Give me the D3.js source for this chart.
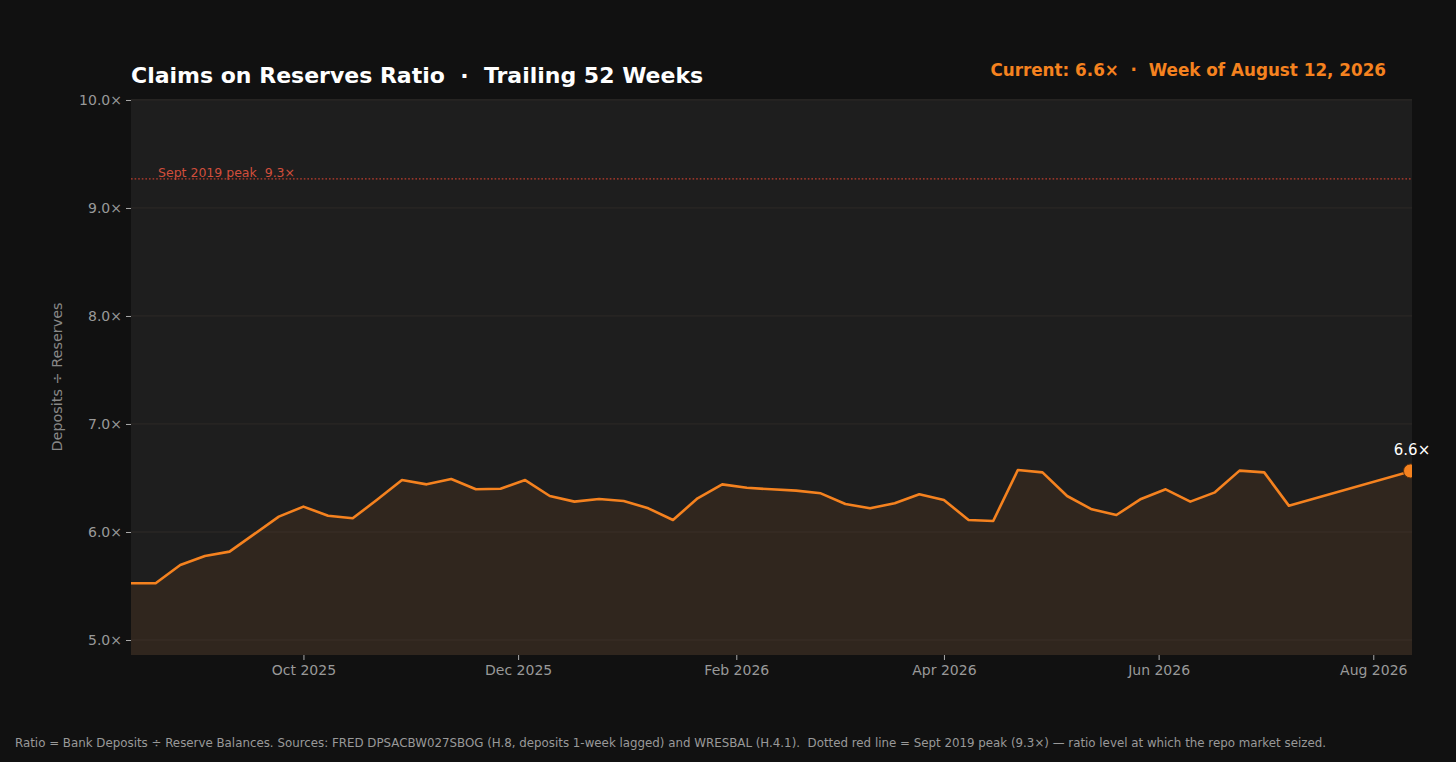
<!DOCTYPE html>
<html><head><meta charset="utf-8">
<script src="https://cdn.jsdelivr.net/npm/d3@7"></script>
<style>
html,body{margin:0;padding:0;background:#111111;}
svg{display:block;}
text{font-family:"DejaVu Sans",sans-serif;white-space:pre;}
</style></head>
<body>
<svg id="chart" width="1456" height="762"></svg>
<script>
// ---- data ----
const weekDates = [
"2025-08-13","2025-08-20","2025-08-27","2025-09-03","2025-09-10","2025-09-17","2025-09-24",
"2025-10-01","2025-10-08","2025-10-15","2025-10-22","2025-10-29","2025-11-05","2025-11-12",
"2025-11-19","2025-11-26","2025-12-03","2025-12-10","2025-12-17","2025-12-24","2025-12-31",
"2026-01-07","2026-01-14","2026-01-21","2026-01-28","2026-02-04","2026-02-11","2026-02-18",
"2026-02-25","2026-03-04","2026-03-11","2026-03-18","2026-03-25","2026-04-01","2026-04-08",
"2026-04-15","2026-04-22","2026-04-29","2026-05-06","2026-05-13","2026-05-20","2026-05-27",
"2026-06-03","2026-06-10","2026-06-17","2026-06-24","2026-07-01","2026-07-08","2026-08-12"
];
const ratioValues = [
5.525,5.525,5.694,5.778,5.818,5.98,6.142,
6.235,6.151,6.127,6.30,6.481,6.441,6.491,
6.395,6.401,6.481,6.333,6.281,6.306,6.287,
6.219,6.111,6.312,6.441,6.41,6.395,6.383,
6.358,6.259,6.219,6.266,6.349,6.296,6.111,
6.102,6.574,6.552,6.333,6.21,6.157,6.306,
6.395,6.281,6.367,6.568,6.552,6.244,6.565
];
const yTicks = [5,6,7,8,9,10];
const xTickDates = ["2025-10-01","2025-12-01","2026-02-01","2026-04-01","2026-06-01","2026-08-01"];
const peakValue = 9.27;
const peakLabel = "Sept 2019 peak  9.3\u00d7";
const titleText = "Claims on Reserves Ratio  \u00b7  Trailing 52 Weeks";
const currentText = "Current: 6.6\u00d7  \u00b7  Week of August 12, 2026";
const endLabel = "6.6\u00d7";
const yLabel = "Deposits \u00f7 Reserves";
const footText = "Ratio = Bank Deposits \u00f7 Reserve Balances. Sources: FRED DPSACBW027SBOG (H.8, deposits 1-week lagged) and WRESBAL (H.4.1).  Dotted red line = Sept 2019 peak (9.3\u00d7) \u2014 ratio level at which the repo market seized.";

// ---- layout ----
const L = 131, R = 1412, T = 99, B = 655;
const orange = "#f5821f";
const parse = d3.timeParse("%Y-%m-%d");
const data = weekDates.map((d,i)=>({date:parse(d), v:ratioValues[i]}));

const x = d3.scaleTime().domain(d3.extent(data,d=>d.date)).range([L,R]);
const y = d3.scaleLinear().domain([4.861,10.009]).range([B,T]);

const svg = d3.select("#chart");
svg.append("rect").attr("width",1456).attr("height",762).attr("fill","#111111");

svg.append("defs").append("clipPath").attr("id","clip")
  .append("rect").attr("x",L).attr("y",T).attr("width",R-L).attr("height",B-T);

svg.append("rect").attr("x",L).attr("y",T).attr("width",R-L).attr("height",B-T).attr("fill","#1e1e1e");

// grid
svg.append("g").selectAll("line").data(yTicks).join("line")
  .attr("x1",L).attr("x2",R).attr("y1",d=>y(d)).attr("y2",d=>y(d))
  .attr("stroke","#2a2a2a").attr("stroke-width",0.8);

const plot = svg.append("g").attr("clip-path","url(#clip)");

// area
plot.append("path").datum(data)
  .attr("d", d3.area().x(d=>x(d.date)).y0(B).y1(d=>y(d.v)))
  .attr("fill", orange).attr("fill-opacity",0.085);

// grid over area (faint)
plot.append("g").selectAll("line").data(yTicks).join("line")
  .attr("x1",L).attr("x2",R).attr("y1",d=>y(d)).attr("y2",d=>y(d))
  .attr("stroke","#3a3028").attr("stroke-opacity",0.5).attr("stroke-width",0.8);

// peak line
plot.append("line").attr("x1",L).attr("x2",R).attr("y1",y(peakValue)).attr("y2",y(peakValue))
  .attr("stroke","#c8402f").attr("stroke-width",1.3).attr("stroke-dasharray","1.6,2").attr("stroke-opacity",0.95);
svg.append("text").attr("x",158).attr("y",y(peakValue)-2)
  .attr("fill","#d24e3c").attr("font-size",12.5).text(peakLabel);

// line
plot.append("path").datum(data)
  .attr("d", d3.line().x(d=>x(d.date)).y(d=>y(d.v)))
  .attr("fill","none").attr("stroke",orange).attr("stroke-width",2.6).attr("stroke-linejoin","round");

// end marker
const last = data[data.length-1];
plot.append("circle").attr("cx",x(last.date)-1.5).attr("cy",y(last.v)).attr("r",7)
  .attr("fill",orange).attr("stroke","#5a3210").attr("stroke-width",1);
svg.append("text").attr("x",x(last.date)).attr("y",y(last.v)-16)
  .attr("text-anchor","middle").attr("fill","#ffffff").attr("font-size",15).text(endLabel);

// y axis
const yAxis = svg.append("g").attr("transform",`translate(${L},0)`)
  .call(d3.axisLeft(y).tickValues(yTicks).tickSize(5).tickPadding(4).tickFormat(d=>d3.format(".1f")(d)+"\u00d7"));
yAxis.select(".domain").remove();
yAxis.selectAll("line").attr("stroke","#aaaaaa");
yAxis.selectAll("text").attr("fill","#999999").attr("font-size",14).attr("font-family","DejaVu Sans");

// x axis
const xAxis = svg.append("g").attr("transform",`translate(0,${B})`)
  .call(d3.axisBottom(x).tickValues(xTickDates.map(parse)).tickSize(5).tickPadding(5).tickFormat(d3.timeFormat("%b %Y")));
xAxis.select(".domain").remove();
xAxis.selectAll("line").attr("stroke","#aaaaaa");
xAxis.selectAll("text").attr("fill","#999999").attr("font-size",14).attr("font-family","DejaVu Sans");

// y label
svg.append("text").attr("transform",`translate(62,${(T+B)/2}) rotate(-90)`)
  .attr("text-anchor","middle").attr("fill","#888888").attr("font-size",14.4).text(yLabel);

// title
svg.append("text").attr("x",L).attr("y",83).attr("fill","#ffffff").attr("font-size",22)
  .attr("font-weight","bold").text(titleText);
svg.append("text").attr("x",1386).attr("y",76).attr("text-anchor","end").attr("fill",orange)
  .attr("font-size",16.8).attr("font-weight","bold").text(currentText);

// footer
svg.append("text").attr("x",15).attr("y",747).attr("fill","#999999").attr("font-size",12)
  .attr("textLength",1311).attr("lengthAdjust","spacingAndGlyphs").text(footText);
</script>
</body></html>
